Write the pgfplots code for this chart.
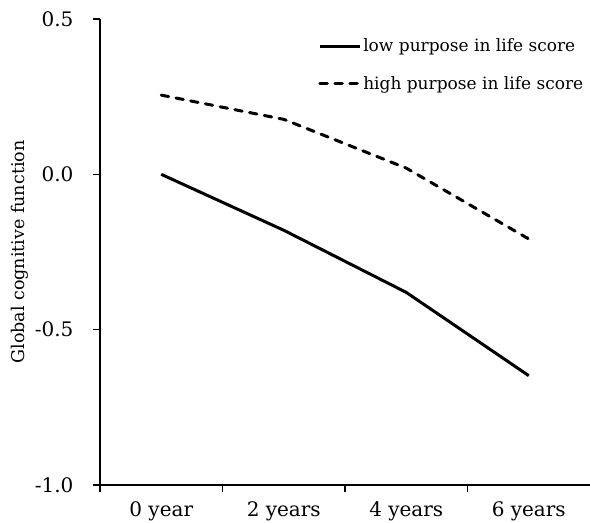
\documentclass[border=0pt]{standalone}
\usepackage{fontspec}
\setmainfont{DejaVu Serif}
\usepackage{pgfplots}
\pgfplotsset{compat=1.18}
\begin{document}
\begin{tikzpicture}
\begin{axis}[
  scale only axis,
  width=490pt, height=466pt,
  xmin=-0.5, xmax=3.5,
  ymin=-1, ymax=0.5,
  axis lines=left,
  axis line style={line width=1.2pt, -},
  every tick/.style={line width=1.2pt, black},
  tick align=outside,
  xtick={0,1,2,3},
  xticklabels={0 year,2 years,4 years,6 years},
  major x tick style={draw=none},
  minor xtick={-0.5,0.5,1.5,2.5},
  minor tick length=7pt,
  major tick length=7pt,
  ytick={-1,-0.5,0,0.5},
  yticklabel style={/pgf/number format/fixed, /pgf/number format/fixed zerofill, /pgf/number format/precision=1},
  /pgf/number format/assume math mode=true,
  ticklabel style={font=\fontsize{20}{22}\selectfont},
  xticklabel style={yshift=-6pt},
  yticklabel style={xshift=-16pt},
  ylabel={Global cognitive function},
  every axis y label/.style={at={(rel axis cs:0,0.5)}, rotate=90, anchor=center, yshift=80pt,
    font=\fontsize{17.5}{19}\selectfont},
  legend style={draw=none, fill=none, inner sep=0pt, at={(rel axis cs:0.445,0.962)}, anchor=north west,
    font=\fontsize{17}{19}\selectfont, row sep=19pt,
    /tikz/every even column/.append style={column sep=4pt}},
  legend cell align=left,
  legend image code/.code={\draw[#1] (0pt,0pt) -- (40pt,0pt);},
]
\addplot[black, line width=3pt] coordinates {(0,0.0) (1,-0.18) (2,-0.38) (3,-0.648)};
\addlegendentry{low purpose in life score}
\addplot[black, line width=3pt, line cap=round, dash pattern=on 7.5pt off 7.5pt] coordinates {(0,0.255) (1,0.177) (2,0.02) (3,-0.208)};
\addlegendentry{high purpose in life score}
\coordinate (sw) at (rel axis cs:0,0);
\coordinate (ne) at (rel axis cs:1,1);
\end{axis}
\pgfresetboundingbox
\path ([xshift=-100pt,yshift=-37pt]sw) rectangle ([yshift=19pt]ne);
\end{tikzpicture}
\end{document}
